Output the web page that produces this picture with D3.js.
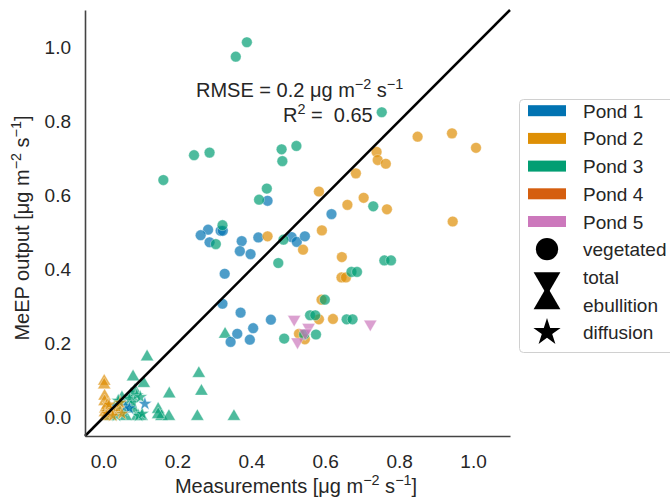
<!DOCTYPE html>
<html>
<head>
<meta charset="utf-8">
<script src="https://cdn.jsdelivr.net/npm/d3@7"></script>
<style>
  body { margin: 0; background: #fff; }
  svg { font-family: "Liberation Sans", Arial, sans-serif; }
</style>
</head>
<body>
<svg id="chart" width="670" height="502"></svg>
<script>
// Measured vs modelled CH4 flux: [measurement, MeEP output]
const pond1Vegetated = [
  [0.444,0.585],[0.617,0.549],[0.283,0.507],[0.317,0.504],[0.323,0.504],[0.263,0.492],
  [0.287,0.473],[0.374,0.476],[0.419,0.486],[0.509,0.487],[0.523,0.474],[0.545,0.489],
  [0.369,0.449],[0.398,0.441],[0.328,0.388],[0.322,0.307],[0.371,0.283],[0.453,0.264],
  [0.405,0.241],[0.362,0.226],[0.344,0.204],[0.396,0.210]
];
const pond1Diffusion = [[0.112,0.037],[0.010,0.015],[0.015,0.030],[0.060,0.030],[0.070,0.025]];

const pond2Vegetated = [
  [0.850,0.758],[0.943,0.767],[1.008,0.728],[0.739,0.717],[0.742,0.695],[0.764,0.685],
  [0.683,0.659],[0.583,0.610],[0.704,0.593],[0.660,0.574],[0.767,0.562],[0.945,0.529],
  [0.591,0.505],[0.444,0.489],[0.540,0.453],[0.645,0.433],[0.644,0.378],[0.656,0.378],
  [0.590,0.318],[0.583,0.265],[0.621,0.266],[0.529,0.226],[0.545,0.211]
];
const pond2Ebullition = [
  [0.002,0.095],[0.002,0.085],[0.003,0.055],[0.003,0.040],[0.005,0.020],[0.004,0.010],
  [0.006,0.000],[0.010,0.030]
];
const pond2Diffusion = [
  [0.010,0.010],[0.020,0.020],[0.030,0.015],[0.040,0.025],[0.050,0.010],[0.015,0.035],
  [0.025,0.005],[0.045,0.040]
];

const pond3Vegetated = [
  [0.388,1.013],[0.358,0.974],[0.753,0.824],[0.287,0.715],[0.245,0.708],[0.482,0.724],
  [0.522,0.733],[0.484,0.692],[0.162,0.641],[0.442,0.618],[0.421,0.588],[0.730,0.570],
  [0.322,0.519],[0.304,0.468],[0.487,0.480],[0.473,0.417],[0.760,0.424],[0.778,0.424],
  [0.671,0.393],[0.686,0.393],[0.599,0.318],[0.559,0.276],[0.573,0.276],[0.658,0.265],
  [0.674,0.265],[0.489,0.213],[0.543,0.224],[0.575,0.224]
];
const pond3Ebullition = [
  [0.329,0.222],[0.118,0.161],[0.080,0.107],[0.109,0.089],[0.258,0.116],[0.265,0.068],
  [0.178,0.061],[0.148,0.019],[0.091,0.000],[0.103,0.000],[0.157,0.000],[0.177,0.000],
  [0.254,0.000],[0.353,0.000],[0.078,0.050],[0.020,0.000],[0.030,0.020],[0.045,0.010],
  [0.060,0.000],[0.070,0.030],[0.040,0.040],[0.050,0.050],[0.080,0.020],[0.075,0.060],
  [0.085,0.070],[0.148,0.005]
];
const pond3Diffusion = [
  [0.030,0.030],[0.040,0.045],[0.050,0.035],[0.060,0.040],[0.070,0.050],[0.080,0.040],
  [0.020,0.010],[0.035,0.005],[0.055,0.020],[0.090,0.060],[0.100,0.055],[0.095,0.005],
  [0.105,0.010]
];

const pond5Total = [[0.516,0.268],[0.722,0.255],[0.555,0.246],[0.546,0.231],[0.525,0.207]];

const pondNames = ["Pond 1", "Pond 2", "Pond 3", "Pond 4", "Pond 5"];
const pondColors = ["#0173b2", "#de8f05", "#029e73", "#d55e0f", "#cc78bc"];
const typeNames = ["vegetated", "total", "ebullition", "diffusion"];
const xTicks = [0.0, 0.2, 0.4, 0.6, 0.8, 1.0];
const yTicks = [0.0, 0.2, 0.4, 0.6, 0.8, 1.0];
const rmse = 0.2, r2 = 0.65;

const groups = [
  { pond: 2, type: "ebullition", data: pond3Ebullition },
  { pond: 2, type: "diffusion", data: pond3Diffusion },
  { pond: 0, type: "vegetated", data: pond1Vegetated },
  { pond: 0, type: "diffusion", data: pond1Diffusion },
  { pond: 1, type: "vegetated", data: pond2Vegetated },
  { pond: 1, type: "ebullition", data: pond2Ebullition },
  { pond: 1, type: "diffusion", data: pond2Diffusion },
  { pond: 2, type: "vegetated", data: pond3Vegetated },
  { pond: 4, type: "total", data: pond5Total }
];

const svg = d3.select("#chart");
const m = { left: 85, right: 510, top: 10, bottom: 436 };
const x = d3.scaleLinear().domain([-0.05, 1.1]).range([m.left, m.right]);
const y = d3.scaleLinear().domain([-0.05, 1.1]).range([m.bottom, m.top]);

const textColor = "#262626";
const tickFont = "19px", labelFont = "20px", legendFont = "19px";

// Marker shapes per flux type
function symbolPath(type, size) {
  const shape = {
    vegetated: d3.symbolCircle,
    total: d3.symbolTriangle,
    ebullition: d3.symbolTriangle,
    diffusion: d3.symbolStar
  }[type];
  return d3.symbol().type(shape).size(size)();
}
function markerTransform(type, px, py, k) {
  if (type === "total") return `translate(${px},${py + k}) rotate(180)`;
  if (type === "ebullition") return `translate(${px},${py - k})`;
  return `translate(${px},${py})`;
}
const markerSize = { vegetated: 90, total: 75, ebullition: 75, diffusion: 60 };

// Scatter points
const pts = svg.append("g");
groups.forEach(g => {
  pts.selectAll(null).data(g.data).enter().append("path")
    .attr("d", symbolPath(g.type, markerSize[g.type]))
    .attr("transform", d => markerTransform(g.type, x(d[0]), y(d[1]), 1))
    .attr("fill", pondColors[g.pond])
    .attr("fill-opacity", 0.7)
    .attr("stroke", "#fff")
    .attr("stroke-width", 0.5)
    .attr("stroke-opacity", 0.7);
});

// 1:1 line
svg.append("line")
  .attr("x1", x(-0.05)).attr("y1", y(-0.05))
  .attr("x2", x(1.1)).attr("y2", y(1.1))
  .attr("stroke", "#000").attr("stroke-width", 2.5);

// Axes
const xAxis = svg.append("g").attr("transform", `translate(0,${m.bottom})`)
  .call(d3.axisBottom(x).tickValues(xTicks).tickFormat(d3.format(".1f")).tickSize(0).tickPadding(19));
const yAxis = svg.append("g").attr("transform", `translate(${m.left},0)`)
  .call(d3.axisLeft(y).tickValues(yTicks).tickFormat(d3.format(".1f")).tickSize(0).tickPadding(14));
[xAxis, yAxis].forEach(a => {
  a.select(".domain").attr("stroke", "#444").attr("stroke-width", 1.6);
  a.selectAll("text").attr("fill", textColor).style("font-size", tickFont)
    .style("font-family", "'Liberation Sans', Arial, sans-serif");
});

// Text with superscript exponents
function unitText(sel, prefix) {
  sel.append("tspan").text(prefix + "μg m");
  sel.append("tspan").attr("dy", -8).style("font-size", "0.72em").text("−2");
  sel.append("tspan").attr("dy", 8).text(" s");
  sel.append("tspan").attr("dy", -8).style("font-size", "0.72em").text("−1");
  sel.append("tspan").attr("dy", 8).text("]");
}

const xl = svg.append("text").attr("x", 296).attr("y", 493).attr("text-anchor", "middle")
  .attr("fill", textColor).style("font-size", labelFont);
unitText(xl, "Measurements [");

const yl = svg.append("text").attr("transform", "translate(29,228) rotate(-90)")
  .attr("text-anchor", "middle").attr("fill", textColor).style("font-size", labelFont);
unitText(yl, "MeEP output [");

// Fit statistics
const t1 = svg.append("text").attr("x", 196).attr("y", 97).attr("fill", textColor).style("font-size", labelFont);
t1.append("tspan").text(`RMSE = ${rmse} μg m`);
t1.append("tspan").attr("dy", -8).style("font-size", "0.72em").text("−2");
t1.append("tspan").attr("dy", 8).text(" s");
t1.append("tspan").attr("dy", -8).style("font-size", "0.72em").text("−1");

const t2 = svg.append("text").attr("x", 283).attr("y", 122).attr("fill", textColor).style("font-size", labelFont)
  .attr("xml:space", "preserve");
t2.append("tspan").text("R");
t2.append("tspan").attr("dy", -8).style("font-size", "0.72em").text("2");
t2.append("tspan").attr("dy", 8).text(" =  " + r2.toFixed(2));

// Legend
const lg = svg.append("g");
lg.append("rect").attr("x", 519.5).attr("y", 99.5).attr("width", 170).attr("height", 253)
  .attr("rx", 4).attr("fill", "#fff").attr("stroke", "#d0d0d0").attr("stroke-width", 1);
const rowY = i => 110.7 + i * 27.7;
pondNames.forEach((n, i) => {
  lg.append("rect").attr("x", 528).attr("y", rowY(i) - 5.5).attr("width", 38).attr("height", 11)
    .attr("fill", pondColors[i]);
  lg.append("text").attr("x", 583).attr("y", rowY(i) + 7).attr("fill", textColor)
    .style("font-size", legendFont).text(n);
});
typeNames.forEach((n, j) => {
  const i = j + pondNames.length;
  const size = { vegetated: 390, total: 310, ebullition: 310, diffusion: 230 }[n];
  lg.append("path").attr("d", symbolPath(n, size))
    .attr("transform", markerTransform(n, 547, rowY(i), 3))
    .attr("fill", "#000");
  lg.append("text").attr("x", 583).attr("y", rowY(i) + 7).attr("fill", textColor)
    .style("font-size", legendFont).text(n);
});
</script>
</body>
</html>
